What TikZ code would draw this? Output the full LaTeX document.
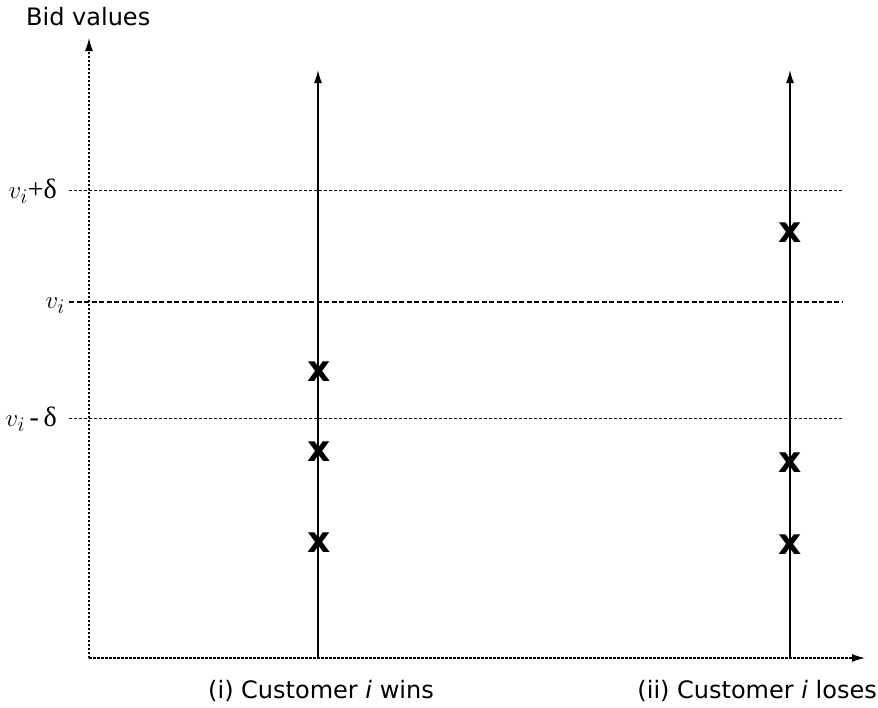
\documentclass[tikz,border=0pt]{standalone}
\usepackage{fontspec}
\setmainfont{DejaVu Sans}
\newfontfamily\grk{Liberation Serif}
\newfontfamily\xfont{DejaVu Sans}
\usetikzlibrary{arrows.meta}
\begin{document}
\begin{tikzpicture}[x=1pt,y=-1pt,
  axis/.style={line width=1.2pt,dash pattern=on 2.5pt off 1.5pt},
  level/.style={line width=1pt,dash pattern=on 3pt off 2pt},
  mid/.style={line width=1.8pt,dash pattern=on 5pt off 2.5pt},
  bar/.style={line width=1.3pt},
  tip/.style={-{Latex[length=13pt,width=8pt]}},
  cross/.style={font=\xfont\bfseries\fontsize{36}{36}\selectfont,inner sep=0pt},
  lab/.style={font=\fontsize{24}{26}\selectfont,inner sep=0pt},
  vlab/.style={font=\fontsize{32}{34}\selectfont,inner sep=0pt,anchor=base east}]
\useasboundingbox (0,0) rectangle (878,707);
\fill[white] (0,0) rectangle (878,707);
% axes
\coordinate (O) at (89,658);
\coordinate (Ytop) at (89,38);
\coordinate (Xend) at (865,658);
\draw[axis,tip] (O) -- (Ytop);
\draw[axis,tip] (O) -- (Xend);
% customer bars
\coordinate (A0) at (318,658);
\coordinate (A1) at (318,70);
\coordinate (B0) at (790,658);
\coordinate (B1) at (790,70);
\draw[bar,tip] (A0) -- (A1);
\draw[bar,tip] (B0) -- (B1);
% levels
\coordinate (Lp0) at (69,190); \coordinate (Lp1) at (843,190);
\coordinate (Lm0) at (69,302); \coordinate (Lm1) at (843,302);
\coordinate (Ln0) at (69,418); \coordinate (Ln1) at (843,418);
\draw[level] (Lp0) -- (Lp1);
\draw[mid] (Lm0) -- (Lm1);
\draw[level] (Ln0) -- (Ln1);
% labels
\node[lab,anchor=west] (bv) at (26,17) {Bid values};
\node[vlab] (lp) at (57,198) {$v_i$\grk\fontsize{28}{30}\selectfont +δ};
\node[vlab] (lm) at (65,308) {$v_i$};
\node[vlab] (ln) at (57,426) {$v_i$\grk\fontsize{28}{30}\selectfont \,-\,δ};
\node[lab] (ca) at (321,691) {(i) Customer \textit{i} wins};
\node[lab,anchor=east] (cb) at (877,691) {(ii) Customer \textit{i} loses};
% crosses
\node[cross] (x1) at (319.5,372) {x};
\node[cross] (x2) at (319.5,452) {x};
\node[cross] (x3) at (319.5,543) {x};
\node[cross] (x4) at (790.5,233) {x};
\node[cross] (x5) at (790.5,463) {x};
\node[cross] (x6) at (790.5,545) {x};
\end{tikzpicture}
\end{document}
